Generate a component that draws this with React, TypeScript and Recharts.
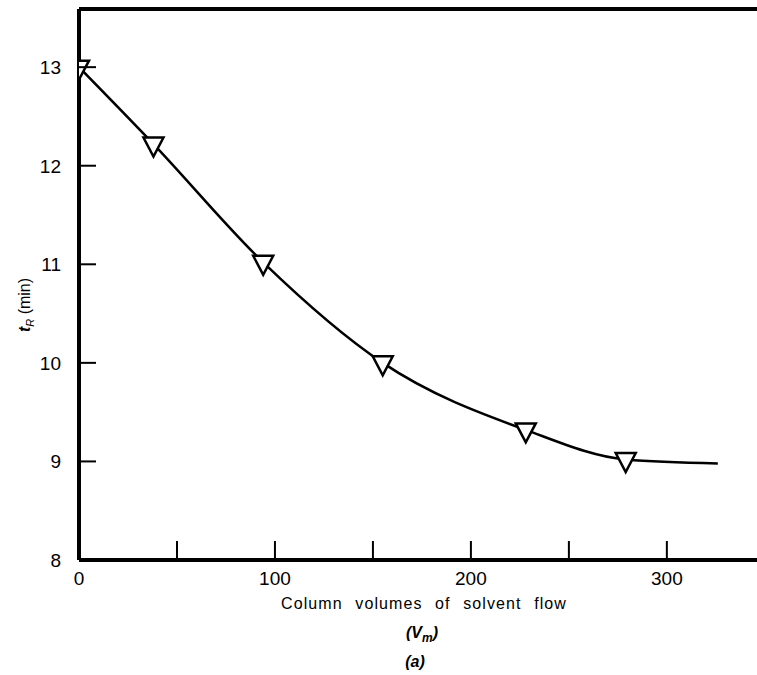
import {
  ComposedChart, Line, Scatter, XAxis, YAxis, ReferenceLine,
} from "recharts";

const pointX = [0, 38, 94, 155, 228, 279];
const pointY = [13.0, 12.22, 11.02, 10.0, 9.32, 9.02];
const curveX = [0, 38, 94, 155, 228, 279, 326];
const curveY = [13.0, 12.22, 11.02, 10.0, 9.32, 9.02, 8.98];
const xTicks = [0, 50, 100, 150, 200, 250, 300];
const xLabels = [0, 100, 200, 300];
const yTicks = [8, 9, 10, 11, 12, 13];
const xMax = 346;
const yMin = 8;
const yMax = 13.59;

const points = pointX.map((x, i) => ({ x, y: pointY[i] }));
const curve = curveX.map((x, i) => ({ x, y: curveY[i] }));

const FONT = "'Liberation Sans', Arial, sans-serif";

function XTick(props: any) {
  const { x, y, payload } = props;
  const v = payload.value;
  return (
    <g>
      {v !== 0 && <line x1={x} y1={y} x2={x} y2={y - 19} stroke="#000" strokeWidth={2} />}
      {xLabels.includes(v) && (
        <text x={x} y={y + 25} textAnchor="middle" fontSize={19} fontFamily={FONT} fill="#000">
          {v}
        </text>
      )}
    </g>
  );
}

function YTick(props: any) {
  const { x, y, payload } = props;
  const v = payload.value;
  return (
    <g>
      {v !== 8 && <line x1={x} y1={y} x2={x + 17} y2={y} stroke="#000" strokeWidth={2} />}
      <text x={x - 18} y={y + 7} textAnchor="end" fontSize={19} fontFamily={FONT} fill="#000">
        {v}
      </text>
    </g>
  );
}

function Triangle(props: any) {
  const { cx, cy } = props;
  if (cx == null || cy == null) return null;
  const w = 10, top = 6.5, bot = 12.5;
  return (
    <polygon
      points={`${cx - w},${cy - top} ${cx + w},${cy - top} ${cx},${cy + bot}`}
      fill="#fff"
      stroke="#000"
      strokeWidth={2.5}
    />
  );
}

function XLabel() {
  return (
    <g fontFamily={FONT} fill="#000">
      <text x={424} y={609} textAnchor="middle" fontSize={16} letterSpacing={1.1} wordSpacing={7}>
        Column volumes of solvent flow
      </text>
      <text x={422} y={638} textAnchor="middle" fontSize={16} fontStyle="italic" fontWeight="bold">
        (V<tspan fontSize={12} dy={4}>m</tspan><tspan dy={-4}>)</tspan>
      </text>
      <text x={415} y={667} textAnchor="middle" fontSize={16} fontStyle="italic" fontWeight="bold">
        (a)
      </text>
    </g>
  );
}

function YLabel() {
  return (
    <text
      transform="translate(30, 305) rotate(-90)"
      textAnchor="middle"
      fontFamily={FONT}
      fontSize={16}
      fill="#000"
    >
      <tspan fontStyle="italic" fontWeight="bold">t</tspan>
      <tspan fontStyle="italic" fontSize={11} dy={4}>R</tspan>
      <tspan dy={-4}> (min)</tspan>
    </text>
  );
}

export default function App() {
  return (
    <div style={{ position: "absolute", left: 0, top: 0, background: "#fff" }}>
      <ComposedChart width={757} height={675} margin={{ top: 9, right: 0, bottom: 0, left: 0 }}>
        <XAxis
          dataKey="x"
          type="number"
          domain={[0, xMax]}
          ticks={xTicks}
          height={115}
          tickSize={0}
          tickMargin={0}
          tickLine={false}
          tick={<XTick />}
          axisLine={{ stroke: "#000", strokeWidth: 4 }}
          label={{ content: () => <XLabel /> }}
          allowDataOverflow
        />
        <YAxis
          dataKey="y"
          type="number"
          domain={[yMin, yMax]}
          ticks={yTicks}
          width={79}
          tickSize={0}
          tickMargin={0}
          tickLine={false}
          tick={<YTick />}
          axisLine={{ stroke: "#000", strokeWidth: 4 }}
          label={{ content: () => <YLabel /> }}
          allowDataOverflow
        />
        <ReferenceLine y={yMax} stroke="#000" strokeWidth={4} ifOverflow="extendDomain" />
        <Line
          data={curve}
          dataKey="y"
          type="monotone"
          stroke="#000"
          strokeWidth={2.5}
          dot={false}
          activeDot={false}
          isAnimationActive={false}
        />
        <Scatter data={points} dataKey="y" shape={<Triangle />} isAnimationActive={false} />
      </ComposedChart>
    </div>
  );
}
